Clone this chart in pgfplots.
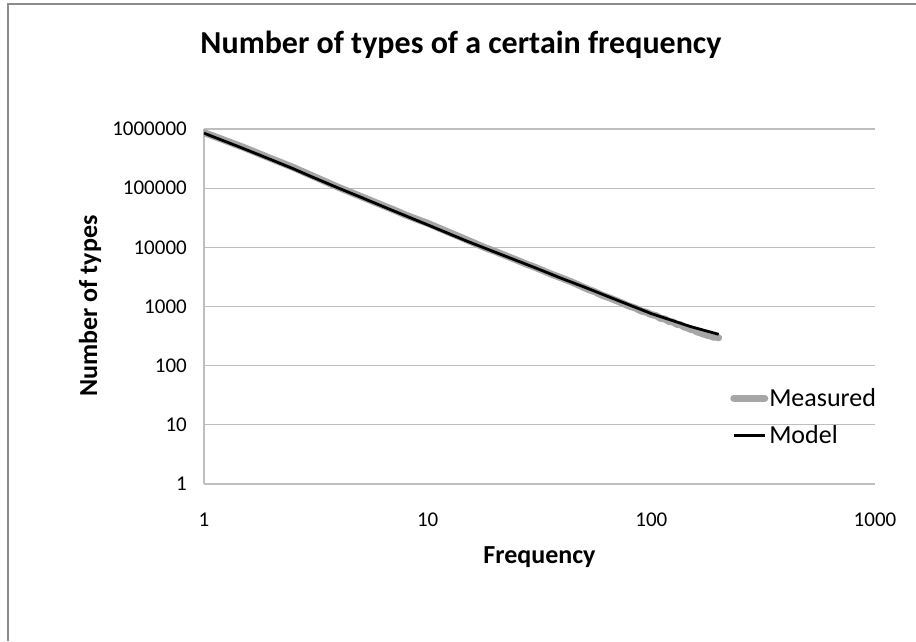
\documentclass[border=0pt]{standalone}
\usepackage{pgfplots}
\pgfplotsset{compat=1.18}
\usepackage{fontspec}
\setmainfont{Carlito}
\definecolor{gridc}{RGB}{190,190,190}
\definecolor{framec}{RGB}{140,140,140}
\definecolor{meas}{RGB}{166,166,166}
\begin{document}
\begin{tikzpicture}[x=1pt,y=1pt]
\useasboundingbox (-204,-157) rectangle (712,484);
\draw[framec, line width=1.5pt] (-196,-157) -- (-196,480) -- (712,480);
\begin{axis}[
  at={(0,0)}, anchor=south west,
  scale only axis, width=671pt, height=355pt,
  xmode=log, ymode=log,
  xmin=1, xmax=1000, ymin=1, ymax=1000000,
  axis x line*=bottom, axis y line*=left,
  axis line style={gridc, line width=1.2pt, -},
  ymajorgrids, grid style={gridc, line width=1.2pt},
  major tick length=0pt, minor tick length=0pt,
  xtick={1,10,100,1000},
  xticklabels={\textrm{1},\textrm{10},\textrm{100},\textrm{1000}},
  ytick={1,10,100,1000,10000,100000,1000000},
  yticklabels={\textrm{1},\textrm{10},\textrm{100},\textrm{1000},\textrm{10000},\textrm{100000},\textrm{1000000}},
  ticklabel style={font=\fontsize{21}{25}\selectfont, inner sep=0pt},
  yticklabel style={anchor=east, xshift=-17pt},
  xticklabel style={anchor=north, yshift=-29pt},
  legend style={at={(axis description cs:0.784,0.189)}, anchor=west, draw=none, fill=none,
    inner sep=0pt, font=\fontsize{26}{30}\selectfont, row sep=16pt,
    nodes={inner sep=1pt},
    /tikz/every even column/.append style={column sep=2pt}},
  legend cell align=left,
  legend image code/.code={\draw[#1] (0pt,0pt) -- (31pt,0pt);},
]
\addplot[meas, line width=7pt, line join=round, line cap=round] coordinates {
(1,870000) (1.5,490000) (2,315000) (2.5,225000) (3,166000) (4,103000) (5,73000) (6,55000) (7,43500) (8,35000)
(9,29500) (10,25500) (12,19000) (14,14900) (16,12000) (18,9900) (20,8550) (22,7400)
(25,6100) (28,5100) (30,4650) (33,4000) (36,3480) (40,3000) (44,2600) (48,2250)
(52,1960) (56,1770) (60,1560) (65,1400) (70,1250) (75,1120) (80,1010) (85,940)
(90,840) (95,800) (100,730) (105,700) (110,630) (115,615) (120,560) (125,545)
(130,500) (135,492) (140,452) (145,435) (150,410) (155,402) (160,372) (165,362)
(170,345) (175,333) (180,322) (185,316) (190,302) (195,306) (200,296)
};
\addlegendentry{Measured}
\addplot[black, line width=2.8pt, line join=round] coordinates {
(1,851000) (1.5,468000) (2,302000) (2.5,214000) (3,158500) (4,100000) (5,70800) (7,41700)
(10,24000) (15,12700) (20,8300) (30,4570) (40,2950) (50,2140) (70,1290)
(100,759) (150,457) (200,339)
};
\addlegendentry{Model}
\end{axis}
\node[font=\fontsize{32}{38}\selectfont\bfseries] at (257,439) {Number of types of a certain frequency};
\node[font=\fontsize{26}{30}\selectfont\bfseries] at (335.5,-73) {Frequency};
\node[font=\fontsize{26}{30}\selectfont\bfseries, rotate=90] at (-114,178) {Number of types};
\end{tikzpicture}
\end{document}
